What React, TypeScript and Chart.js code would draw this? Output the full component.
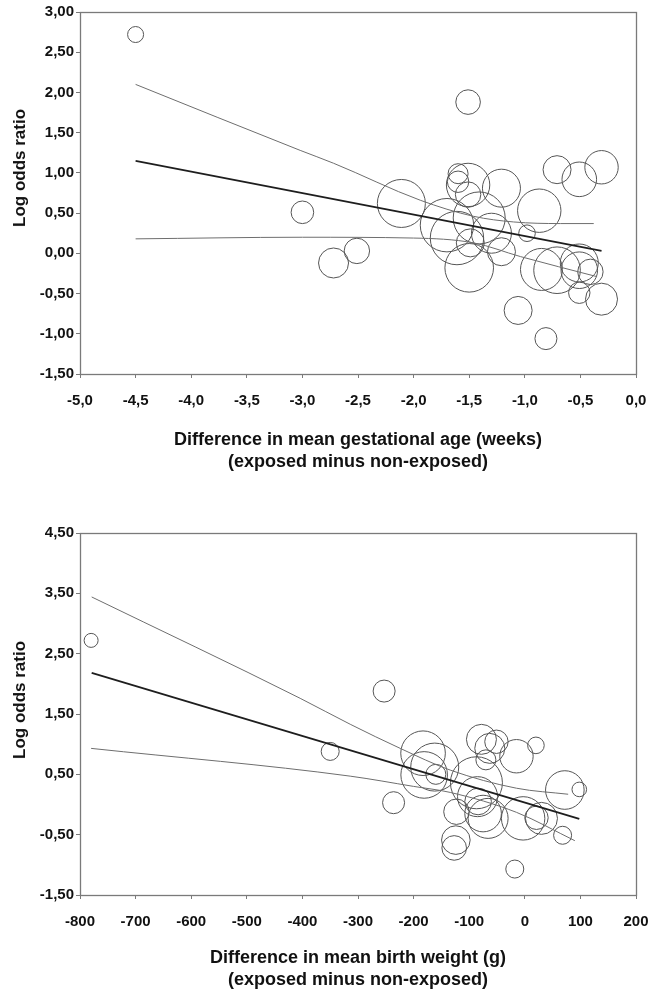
import React, { useEffect, useRef } from "react";
import { Chart, registerables } from "chart.js";

Chart.register(...registerables);

// ---------- Top panel: gestational age ----------
const gaX = [-4.5, -3.0, -2.72, -2.51, -2.11, -1.51, -1.6, -1.6, -1.51, -1.51, -1.21, -0.71, -0.51, -0.31, -0.87, -1.7, -1.41, -1.61, -1.49, -1.3, -1.21, -0.98, -1.5, -0.85, -0.71, -0.51, -0.51, -0.41, -0.51, -0.31, -1.06, -0.81];
const gaY = [2.72, 0.51, -0.12, 0.03, 0.62, 1.88, 0.99, 0.89, 0.85, 0.73, 0.81, 1.04, 0.92, 1.07, 0.53, 0.35, 0.44, 0.19, 0.13, 0.25, 0.02, 0.25, -0.18, -0.2, -0.21, -0.12, -0.21, -0.23, -0.49, -0.57, -0.71, -1.06];
const gaSize = [8, 11.3, 15, 12.7, 24, 12.3, 10, 10.7, 21.7, 12.7, 19, 14, 17.3, 16.7, 21.7, 26.7, 26, 26.7, 14, 20, 14, 8.3, 24.3, 21, 23.3, 19, 18.3, 12.7, 10.7, 16, 14, 11];
const gaFitX = [-4.5, -0.31];
const gaFitY = [1.15, 0.03];
const gaUpperX = [-4.5, -3.02, -2.72, -1.94, -1.46, -1.1, -0.68, -0.38];
const gaUpperY = [2.1, 1.28, 1.12, 0.66, 0.46, 0.39, 0.37, 0.37];
const gaLowerX = [-4.5, -3.0, -2.0, -1.46, -1.04, -0.35];
const gaLowerY = [0.18, 0.2, 0.19, 0.13, -0.04, -0.29];
const gaXTicks = [-5, -4.5, -4, -3.5, -3, -2.5, -2, -1.5, -1, -0.5, 0];
const gaYTicks = [-1.5, -1, -0.5, 0, 0.5, 1, 1.5, 2, 2.5, 3];

// ---------- Bottom panel: birth weight ----------
const bwX = [-780, -350, -253, -236, -183, -162, -181, -160, -87, -78, -51, -63, -15, -70, 20, 72, 98, -85, -123, -84, -66, -75, -3, 21, 30, 68, -124, -127, -18];
const bwY = [2.72, 0.88, 1.88, 0.03, 0.85, 0.62, 0.49, 0.5, 0.36, 1.08, 1.04, 0.93, 0.8, 0.74, 0.98, 0.24, 0.25, 0.13, -0.12, 0.05, -0.23, -0.15, -0.23, -0.22, -0.23, -0.51, -0.59, -0.72, -1.07];
const bwSize = [7, 9, 11, 11, 22.3, 24, 23.3, 10, 26, 15, 11.7, 15, 16.7, 10, 8.3, 19.3, 7.3, 20, 12.7, 13.3, 20, 18.3, 21.7, 11.7, 16, 9, 14.3, 12.3, 9];
const bwFitX = [-779, 98];
const bwFitY = [2.18, -0.24];
const bwUpperX = [-779, -404, -314, -224, -134, -15, 78];
const bwUpperY = [3.44, 1.76, 1.33, 0.93, 0.57, 0.27, 0.17];
const bwLowerX = [-780, -314, -200, -134, -15, 90];
const bwLowerY = [0.93, 0.47, 0.3, 0.2, -0.13, -0.6];
const bwXTicks = [-800, -700, -600, -500, -400, -300, -200, -100, 0, 100, 200];
const bwYTicks = [-1.5, -0.5, 0.5, 1.5, 2.5, 3.5, 4.5];

const FONT = "'Liberation Sans', Arial, Helvetica, sans-serif";
const AXIS = "#7a7a7a";

const frame = {
  id: "frame",
  afterDatasetsDraw(chart: any) {
    const { ctx, chartArea } = chart;
    const { left, top, right, bottom } = chartArea;
    ctx.save();
    ctx.strokeStyle = AXIS;
    ctx.lineWidth = 1.3;
    ctx.strokeRect(Math.round(left) + 0.5, Math.round(top) + 0.5, Math.round(right - left), Math.round(bottom - top));
    ctx.restore();
  },
};

const pts = (xs: number[], ys: number[]) => xs.map((x, i) => ({ x, y: ys[i] }));

function makeConfig(s: any) {
  return {
    type: "bubble",
    data: {
      datasets: [
        {
          type: "line",
          data: pts(s.upX, s.upY),
          borderColor: "#6e6e6e",
          borderWidth: 1,
          pointRadius: 0,
          fill: false,
          cubicInterpolationMode: "monotone",
        },
        {
          type: "line",
          data: pts(s.loX, s.loY),
          borderColor: "#6e6e6e",
          borderWidth: 1,
          pointRadius: 0,
          fill: false,
          cubicInterpolationMode: "monotone",
        },
        {
          type: "line",
          data: pts(s.fitX, s.fitY),
          borderColor: "#1e1e1e",
          borderWidth: 1.8,
          pointRadius: 0,
          fill: false,
        },
        {
          type: "bubble",
          data: s.x.map((x: number, i: number) => ({ x, y: s.y[i], r: s.r[i] })),
          backgroundColor: "rgba(0,0,0,0)",
          borderColor: "#555555",
          borderWidth: 1,
          hoverBorderWidth: 1,
        },
      ],
    },
    options: {
      responsive: false,
      devicePixelRatio: 1,
      animation: false,
      events: [],
      layout: { autoPadding: false, padding: { top: s.padTop, right: 13, left: 0, bottom: 0 } },
      plugins: { legend: { display: false }, tooltip: { enabled: false } },
      scales: {
        x: {
          type: "linear",
          min: s.xTicks[0],
          max: s.xTicks[s.xTicks.length - 1],
          afterBuildTicks: (sc: any) => {
            sc.ticks = s.xTicks.map((v: number) => ({ value: v }));
          },
          afterFit: (sc: any) => {
            sc.height = s.xHeight;
            sc.paddingLeft = 0;
            sc.paddingRight = 0;
          },
          border: { display: false },
          grid: { drawOnChartArea: false, drawTicks: true, tickLength: 4, color: AXIS },
          ticks: {
            autoSkip: false,
            maxRotation: 0,
            padding: 14,
            color: "#111",
            font: { family: FONT, size: 15, weight: "bold" },
            callback: (v: any) => s.xFmt(v),
          },
          title: {
            display: true,
            text: s.xTitle,
            color: "#111",
            font: { family: FONT, size: 18, weight: "bold", lineHeight: 22 / 18 },
            padding: { top: 0, bottom: s.titlePad },
          },
        },
        y: {
          type: "linear",
          min: s.yTicks[0],
          max: s.yTicks[s.yTicks.length - 1],
          afterBuildTicks: (sc: any) => {
            sc.ticks = s.yTicks.map((v: number) => ({ value: v }));
          },
          afterFit: (sc: any) => {
            sc.width = 80;
            sc.paddingTop = 0;
            sc.paddingBottom = 0;
          },
          border: { display: false },
          grid: { drawOnChartArea: false, drawTicks: true, tickLength: 4, color: AXIS },
          ticks: {
            autoSkip: false,
            padding: 2,
            color: "#111",
            font: { family: FONT, size: 15, weight: "bold" },
            callback: (v: any) => Number(v).toFixed(2).replace(".", ","),
          },
          title: { display: false },
        },
      },
    },
    plugins: [frame],
  } as any;
}

const topSpec = {
  x: gaX, y: gaY, r: gaSize,
  fitX: gaFitX, fitY: gaFitY,
  upX: gaUpperX, upY: gaUpperY,
  loX: gaLowerX, loY: gaLowerY,
  xTicks: gaXTicks, yTicks: gaYTicks,
  xFmt: (v: number) => Number(v).toFixed(1).replace(".", ","),
  xTitle: ["Difference in mean gestational age (weeks)", "(exposed minus non-exposed)"],
  padTop: 12, xHeight: 101, titlePad: 2,
  yTitle: "Log odds ratio", yTitleAt: 168,
};

const bottomSpec = {
  x: bwX, y: bwY, r: bwSize,
  fitX: bwFitX, fitY: bwFitY,
  upX: bwUpperX, upY: bwUpperY,
  loX: bwLowerX, loY: bwLowerY,
  xTicks: bwXTicks, yTicks: bwYTicks,
  xFmt: (v: number) => String(Math.round(Number(v))),
  xTitle: ["Difference in mean birth weight (g)", "(exposed minus non-exposed)"],
  padTop: 38, xHeight: 98, titlePad: 2,
  yTitle: "Log odds ratio", yTitleAt: 205,
};

function Plot({ spec, top, height }: { spec: any; top: number; height: number }) {
  const ref = useRef<HTMLCanvasElement>(null);
  useEffect(() => {
    const chart = new Chart(ref.current as HTMLCanvasElement, makeConfig(spec));
    return () => chart.destroy();
  }, [spec]);
  return (
    <div style={{ position: "absolute", left: 0, top, width: 649, height }}>
      <canvas ref={ref} width={649} height={height} style={{ display: "block", width: 649, height }} />
      <div
        style={{
          position: "absolute",
          left: 20,
          top: spec.yTitleAt,
          transform: "translate(-50%, -50%) rotate(-90deg)",
          whiteSpace: "nowrap",
          fontFamily: FONT,
          fontWeight: "bold",
          fontSize: 17,
          lineHeight: "20px",
          color: "#111",
        }}
      >
        {spec.yTitle}
      </div>
    </div>
  );
}

export default function App() {
  return (
    <div style={{ position: "absolute", left: 0, top: 0, width: 649, height: 993, background: "#fff" }}>
      <Plot spec={topSpec} top={0} height={475} />
      <Plot spec={bottomSpec} top={495} height={498} />
    </div>
  );
}
